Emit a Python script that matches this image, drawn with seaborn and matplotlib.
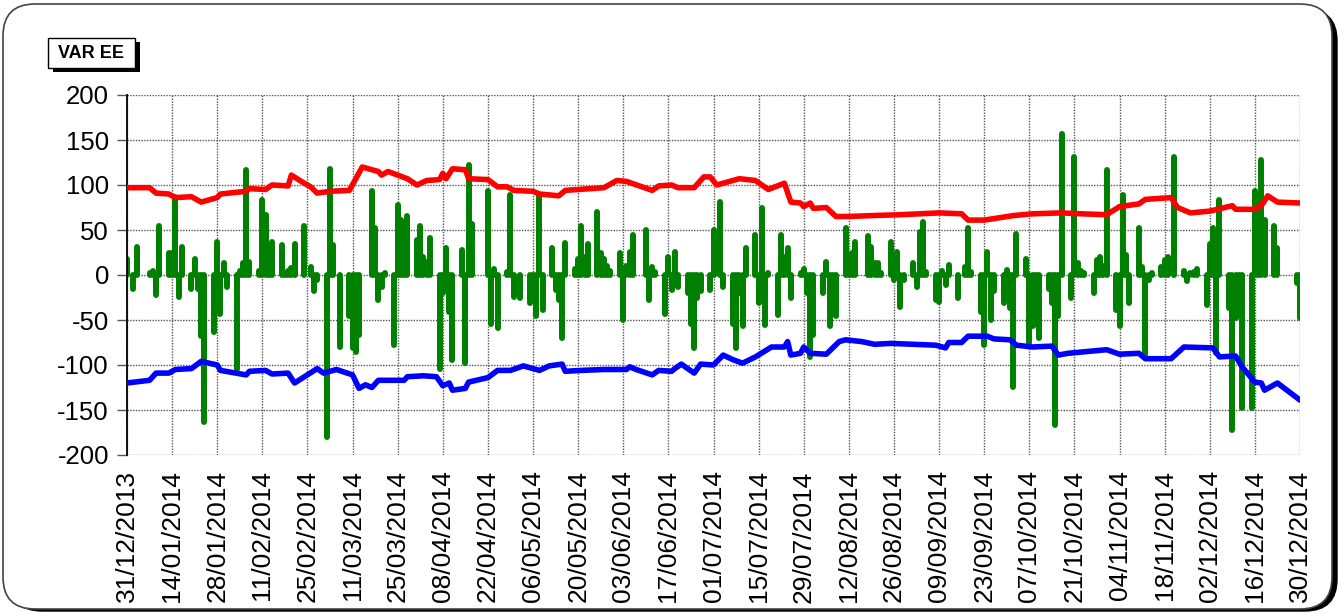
import numpy as np
import pandas as pd
import matplotlib
matplotlib.use("Agg")
import matplotlib.pyplot as plt
import matplotlib.dates as mdates
from matplotlib.patches import FancyBboxPatch, Rectangle
import seaborn as sns

nan = np.nan

# daily result (business days 31/12/2013 .. 30/12/2014), one row per week
pnl = [
    18, nan, -15, 31,
    0, 2, 4, -22, 54,
    24, 24, 87, -24, 31,
    -15, 18, -16, -68, -163,
    -63, 37, -43, 13, -13,
    -104, 4, 13, 117, 15,
    4, 83, 67, 10, 37,
    33, 2, 4, 8, 35,
    54, 0, 9, -18, -5,
    -180, 118, 33, 0, -80,
    -46, -81, -85, -67, 0,
    93, 52, -28, -13, 2,
    -78, 78, 61, 55, 66,
    39, 54, 20, 15, 41,
    -104, -20, 30, -41, -94,
    28, -98, 122, 57, nan,
    nan, 93, -54, 7, -59,
    3, 89, -24, nan, -26,
    -31, -17, -46, 89, -39,
    30, -17, -28, -70, 36,
    7, 18, 54, 20, 35,
    70, 24, 18, 10, 4,
    24, -50, 10, 26, 45,
    0, 50, -28, 9, 3,
    -43, 20, -17, 26, -13,
    -20, -54, -81, -26, -18,
    -17, 50, 0, 81, -13,
    -54, -81, -20, -57, 30,
    45, -31, 74, -56, 2,
    -44, 44, 20, 30, -26,
    2, 7, -20, -91, -67,
    -20, 15, -57, -28, -46,
    52, 10, 24, 37, nan,
    43, 31, 13, 13, 2,
    37, -5, 26, -35, -5,
    13, -13, 48, 59, 3,
    -28, -30, 4, -11, 11,
    -26, 0, 9, 52, 3,
    -41, -78, 26, -50, -18,
    -31, 6, -37, -124, 46,
    18, -76, -57, -54, -70,
    -15, -31, -167, -46, 157,
    -26, 131, 13, 5, 2,
    -20, 17, 20, 10, 117,
    -39, -57, 89, 22, -31,
    52, 9, -89, -5, 2,
    9, 17, 20, 0, 131,
    4, -7, 2, 3, 7,
    -33, 35, 52, -87, 83,
    -37, -172, -48, -35, -148,
    -148, 93, 63, 128, 61,
    54, 30, 0, nan, nan,
    -9, -48,
]

# upper VaR (red): days after 31/12/2013 and value
up_days = [0, 7, 9, 13, 15, 20, 23, 28, 29, 37, 38, 43, 45, 50, 51, 55, 57, 59, 63, 69,
           71, 73, 78, 79, 81, 84, 87, 90, 93, 97, 98, 99, 101, 105, 106, 112, 115, 118, 120, 126,
           128, 134, 136, 148, 152, 155, 163, 165, 169, 171, 176, 179, 181, 183, 185, 190, 195, 199, 204, 206,
           209, 210, 212, 213, 217, 220, 224, 231, 240, 252, 259, 261, 266, 275, 281, 290, 296, 304, 308, 314,
           316, 324, 326, 330, 336, 343, 344, 350, 352, 354, 357, 364]
up_var = [97, 97, 91, 90, 86, 87, 81, 86, 90, 93, 96, 95, 100, 99, 111, 102, 98, 91, 93, 94,
          107, 120, 115, 111, 115, 111, 107, 100, 105, 106, 113, 107, 118, 117, 107, 106, 98, 98, 94, 93,
          90, 88, 94, 97, 105, 104, 94, 99, 100, 97, 97, 109, 109, 100, 102, 107, 105, 95, 102, 81,
          80, 76, 80, 74, 75, 65, 65, 66, 67, 69, 68, 61, 61, 66, 68, 69, 68, 67, 76, 79,
          84, 86, 75, 69, 71, 77, 73, 73, 77, 88, 81, 80]

# lower VaR (blue)
low_days = [0, 7, 9, 13, 15, 20, 23, 28, 29, 37, 38, 43, 45, 50, 52, 59, 61, 65, 70, 72,
            74, 76, 78, 86, 87, 92, 96, 98, 100, 101, 105, 106, 112, 115, 119, 123, 128, 131, 135, 136,
            141, 148, 155, 156, 158, 163, 165, 169, 170, 172, 176, 178, 182, 185, 188, 191, 195, 200, 204, 205,
            206, 209, 210, 212, 217, 221, 223, 228, 232, 237, 251, 254, 255, 259, 261, 267, 269, 274, 276, 281,
            287, 289, 292, 304, 308, 314, 316, 324, 328, 337, 339, 344, 346, 350, 352, 353, 357, 364]
low_var = [-120, -117, -109, -109, -105, -104, -96, -100, -106, -111, -107, -106, -110, -109, -120, -104, -109, -105, -111, -126,
           -122, -125, -117, -117, -113, -112, -113, -123, -120, -128, -126, -119, -114, -106, -106, -101, -106, -101, -99, -107,
           -106, -105, -105, -102, -105, -111, -106, -107, -104, -99, -109, -99, -100, -89, -94, -98, -91, -80, -80, -74,
           -89, -87, -80, -87, -88, -74, -72, -74, -77, -76, -78, -81, -75, -75, -68, -68, -71, -72, -78, -80,
           -79, -89, -87, -83, -88, -87, -93, -93, -80, -81, -91, -90, -102, -119, -120, -128, -120, -139]

y_ticks = [-200, -150, -100, -50, 0, 50, 100, 150, 200]
title = "VAR EE"

start = pd.Timestamp("2013-12-31")
end = pd.Timestamp("2014-12-30")
dates = pd.bdate_range(start, end)
up_dates = start + pd.to_timedelta(up_days, unit="D")
low_dates = start + pd.to_timedelta(low_days, unit="D")

sns.set_style("white")
plt.rcParams["font.family"] = ["Liberation Sans", "DejaVu Sans"]
plt.rcParams["axes.unicode_minus"] = False
plt.rcParams["text.color"] = "black"
plt.rcParams["xtick.color"] = "black"
plt.rcParams["ytick.color"] = "black"

fig = plt.figure(figsize=(13.4, 6.13), dpi=100)

# background frame in pixel units
bg = fig.add_axes([0, 0, 1, 1])
bg.set_xlim(0, 1340)
bg.set_ylim(613, 0)
bg.axis("off")
bg.add_patch(FancyBboxPatch((10, 9), 1327, 602, boxstyle="round,pad=0,rounding_size=32",
                            facecolor="black", edgecolor="black"))
bg.add_patch(FancyBboxPatch((3, 4), 1329, 605, boxstyle="round,pad=0,rounding_size=32",
                            facecolor="white", edgecolor="#444444", linewidth=1.2))
bg.add_patch(Rectangle((53, 42), 87, 30, facecolor="black", edgecolor="none"))
bg.add_patch(Rectangle((48, 38), 87, 30, facecolor="white", edgecolor="black", linewidth=1))
bg.text(91.5, 53.5, title, ha="center", va="center", fontsize=13, fontweight="bold")

ax = fig.add_axes([127 / 1340, 1 - 455 / 613, 1173 / 1340, 360 / 613])
ax.vlines(dates, 0, pnl, color="#008000", linewidth=4.3, capstyle="round", zorder=2)
sns.lineplot(x=up_dates, y=up_var, ax=ax, color="#ff0000", linewidth=4, zorder=3)
sns.lineplot(x=low_dates, y=low_var, ax=ax, color="#0000ff", linewidth=4, zorder=3)

ax.set_xlim(start, end)
ax.set_ylim(-200, 200)
ax.set_yticks(y_ticks)
ax.set_xticks(pd.date_range(start, end, freq="14D"))
ax.xaxis.set_major_formatter(mdates.DateFormatter("%d/%m/%Y"))
ax.tick_params(axis="x", labelrotation=90, labelsize=19, length=0, pad=11)
ax.tick_params(axis="y", labelsize=18.5, length=7, width=1, color="#555555", pad=6, left=True)
ax.grid(True, color="#555555", linestyle=(0, (1, 1)), linewidth=1)
ax.set_xlabel("")
ax.set_ylabel("")
for side in ["top", "right", "bottom"]:
    ax.spines[side].set_visible(False)
ax.spines["left"].set_color("black")
ax.spines["left"].set_linewidth(1.3)

fig.savefig("out.png", dpi=100)
